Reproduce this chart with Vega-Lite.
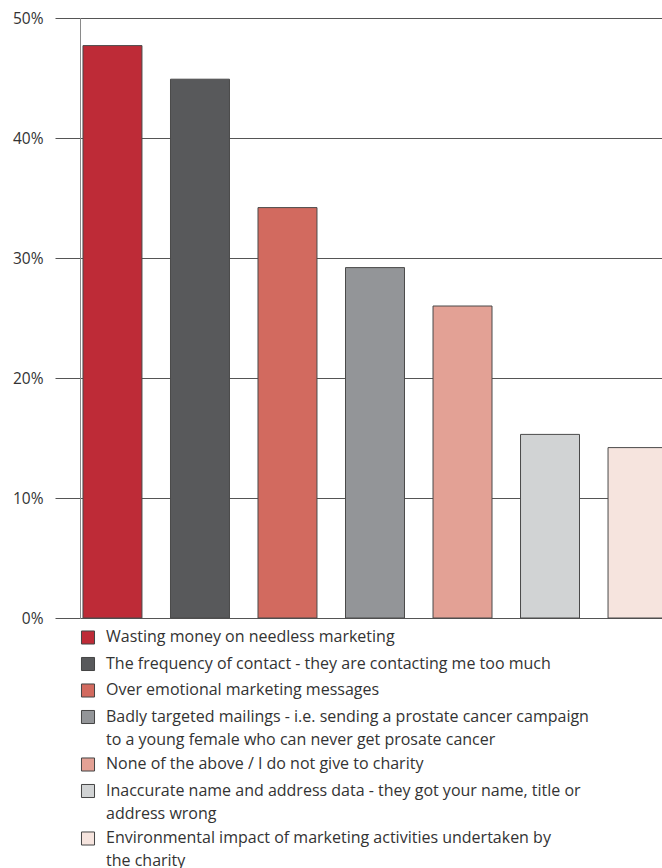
{
  "$schema": "https://vega.github.io/schema/vega-lite/v6.json",
  "autosize": "none",
  "width": 582,
  "height": 600,
  "padding": {"left": 80, "top": 18, "right": 0, "bottom": 250},
  "background": "white",
  "config": {
    "view": {"stroke": null},
    "font": "Open Sans",
    "style": {"guide-label": {"lineHeight": 23}}
  },
  "data": {
    "values": [
      {"cause": "Wasting money on needless marketing", "share": 0.477},
      {"cause": "The frequency of contact - they are contacting me too much", "share": 0.449},
      {"cause": "Over emotional marketing messages", "share": 0.342},
      {"cause": "Badly targeted mailings - i.e. sending a prostate cancer campaign\nto a young female who can never get prosate cancer", "share": 0.292},
      {"cause": "None of the above / I do not give to charity", "share": 0.26},
      {"cause": "Inaccurate name and address data - they got your name, title or\naddress wrong", "share": 0.153},
      {"cause": "Environmental impact of marketing activities undertaken by\nthe charity", "share": 0.142}
    ]
  },
  "mark": {"type": "bar", "stroke": "#4a4a4a", "strokeWidth": 1},
  "encoding": {
    "x": {
      "field": "cause",
      "type": "nominal",
      "sort": null,
      "axis": null,
      "scale": {"range": [0, 590], "paddingInner": 0.326, "paddingOuter": 0.034}
    },
    "y": {
      "field": "share",
      "type": "quantitative",
      "scale": {"domain": [0, 0.5], "nice": false},
      "axis": {
        "title": null,
        "values": [0, 0.1, 0.2, 0.3, 0.4, 0.5],
        "format": ".0%",
        "grid": true,
        "gridColor": "#555555",
        "gridWidth": 1,
        "gridOpacity": 1,
        "tickSize": 25,
        "tickColor": "#555555",
        "tickWidth": 1,
        "domain": true,
        "domainColor": "#8a8a8a",
        "domainWidth": 1,
        "labelPadding": 12,
        "labelFontSize": 15.5,
        "labelColor": "#333333",
        "labelFont": "Open Sans"
      }
    },
    "color": {
      "field": "cause",
      "type": "nominal",
      "sort": null,
      "scale": {"range": ["#BE2B37", "#58595B", "#D26A5F", "#939598", "#E3A195", "#D1D3D4", "#F6E4DE"]},
      "legend": {
        "orient": "none",
        "legendX": 0,
        "legendY": 616,
        "title": null,
        "padding": 0,
        "direction": "vertical",
        "symbolType": "M-1,-1.69H1V0.31H-1Z",
        "symbolSize": 170,
        "symbolStrokeColor": "#444444",
        "symbolStrokeWidth": 1,
        "symbolOpacity": 1,
        "labelOffset": 10,
        "labelFontSize": 16,
        "labelFont": "Open Sans",
        "labelColor": "#333333",
        "labelBaseline": "alphabetic",
        "labelLimit": 700,
        "rowPadding": 7.5,
        "labelExpr": "split(datum.label, '\\n')"
      }
    }
  }
}
